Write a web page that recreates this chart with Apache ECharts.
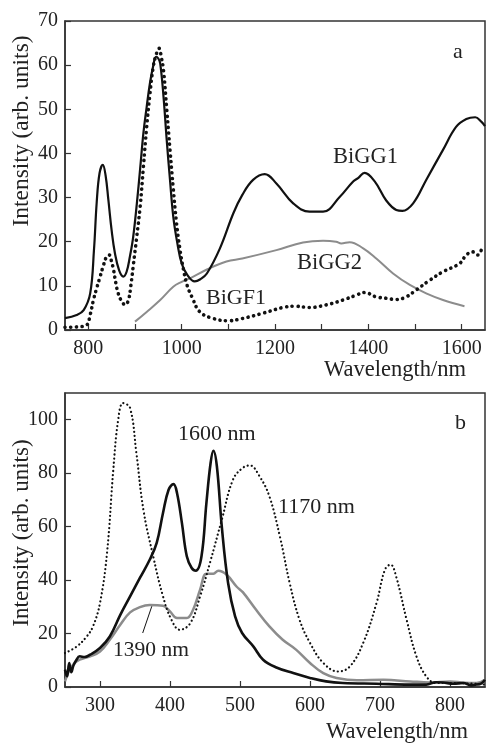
<!DOCTYPE html>
<html>
<head>
<meta charset="utf-8">
<script src="https://cdn.jsdelivr.net/npm/echarts@6/dist/echarts.min.js"></script>
<style>html,body{margin:0;padding:0;background:#fff;}#c{width:486px;height:743px;}</style>
</head>
<body>
<div id="c"></div>
<script>
// ---- Panel a ----
const aXTicks = [800, 900, 1000, 1100, 1200, 1300, 1400, 1500, 1600];
const aXLabels = [800, 1000, 1200, 1400, 1600];
const aYTicks = [0, 10, 20, 30, 40, 50, 60, 70];

const bigg1X = [750,775,790,804,812,818,824,831,837,843,850,857,866,875,882,889,896,904,911,918,925,932,939,945,950,954,961,968,975,982,991,1000,1012,1028,1040,1054,1082,1111,1130,1153,1178,1203,1239,1274,1303,1339,1367,1378,1392,1414,1438,1460,1473,1496,1524,1560,1588,1610,1629,1642,1650];
const bigg1Y = [2.7,3.4,4.5,8.3,18,29,35.5,37.4,35,29.4,22.5,17.4,13.5,12.1,13.2,16.6,21,28.7,36.5,44.6,50.5,55.9,59.8,61.9,61.5,60.4,53,43,34,25.7,19.5,15.1,12.5,11,11.5,12.8,18.5,26.5,30.6,34,35.3,33.2,28.7,26.8,26.8,30.2,33.6,34.4,35.6,33.6,29.4,27.2,27,28.7,34,40.8,46,47.8,48.2,47.2,46.2];

const bigf1X = [750,775,796,804,811,818,825,832,839,845,849,854,859,864,872,879,886,891,896,903,911,918,925,932,939,946,952,956,961,968,975,982,989,996,1004,1012,1022,1039,1068,1100,1130,1174,1217,1242,1274,1310,1346,1374,1392,1417,1438,1460,1481,1503,1532,1560,1596,1610,1624,1635,1646,1650];
const bigf1Y = [0.6,0.7,1.1,3.5,6.8,9.5,12,14.5,16.6,17,15.8,13.6,10.6,8.3,6.4,5.7,6.8,10,14.3,20.5,27.9,37,46,53.5,59.6,62.6,63.8,62,58.9,50,40.8,32,24.2,18.5,13.6,10,7.5,4.1,2.6,2.1,2.6,3.8,5.1,5.4,5.1,5.7,6.8,7.9,8.5,7.5,7.2,6.9,7.5,9.1,11.3,13.2,15.1,17,17.7,17,18.5,18.3];

const bigg2X = [900,925,954,982,1000,1025,1054,1096,1130,1203,1260,1303,1331,1342,1360,1389,1417,1453,1489,1524,1560,1606];
const bigg2Y = [1.9,4.1,6.8,9.8,10.9,12.1,13.7,15.5,16.2,18.1,19.8,20.2,20,19.6,19.9,18.5,16.2,12.8,10.2,8.3,6.8,5.4];

// ---- Panel b ----
const bXTicks = [300, 400, 500, 600, 700, 800];
const bYTicks = [0, 20, 40, 60, 80, 100];

const ex1600X = [250,253,256,259,262,266,271,278,286,300,314,329,343,357,371,381,390,398,405,410,417,424,431,437,445,452,458,462,467,474,483,493,503,519,533,552,576,600,623,647,695,742,766,780,790,805,819,830,838,845,850];
const ex1600Y = [6.5,4,9,5.5,8,10,11.5,11.2,12.1,14.6,18.9,27,33.9,40.8,47.6,53.9,65.1,73.8,75.9,72.6,61.4,48.9,44.5,43.5,48.9,68.8,83.8,88.4,82.5,60,38.9,26.4,20.2,15.2,10.2,7.3,5.2,3.4,2.1,1.5,1.2,0.9,0.9,1.8,1.7,1.2,1.5,0.6,0.9,1.4,2.7];

const ex1390X = [250,254,257,262,271,286,300,314,329,343,357,371,390,400,410,424,433,443,452,462,469,481,495,504,523,542,561,580,600,619,638,667,705,743,771,800,820,838,850];
const ex1390Y = [2.1,5,6.5,8.5,10.2,11.5,13.3,17.7,23.3,27.9,29.9,30.7,30.4,28.3,25.8,25.8,28.9,36.4,42.4,42.4,43.5,42,37.6,35.5,28.9,22.7,17.7,14,9,5.2,3.4,2.5,2.7,2.1,1.7,2.1,1.6,1.5,2.7];

const ex1170X = [250,267,281,290,300,310,319,326,333,343,352,362,376,390,402,414,429,443,457,474,490,504,514,528,542,557,571,585,600,619,640,657,676,695,707,715,723,738,752,766,780,800,850];
const ex1170Y = [12.7,15.2,18.9,22.7,31.4,50.1,81.3,100,106.2,104.4,87.5,66.3,48.9,33.9,25.2,21.4,23.9,33.9,46.4,62.6,77.6,82,82.9,78.8,71.3,56.3,38.9,25.2,16.5,9,5.8,7.7,16.5,31.4,43.9,45.8,41.4,25.2,11.5,4,1.5,1.5,0.9];

const leader1390 = [[361, 20.2], [374, 30.2]];

function zip(xs, ys) { return xs.map((x, i) => [x, ys[i]]); }

const FONT = 'Liberation Serif';
const TXT = '#222';
const AX = '#333';
const GRAY = '#8c8c8c';

function xAxisCfg(gi, min, max, ticks, labels) {
  return {
    type: 'value', gridIndex: gi, min: min, max: max,
    axisLine: { show: true, lineStyle: { color: AX, width: 1.5 } },
    axisTick: { show: true, inside: true, length: 6, customValues: ticks, lineStyle: { color: AX, width: 1.2 } },
    axisLabel: { customValues: labels, margin: 9, fontFamily: FONT, fontSize: 20, color: TXT, formatter: v => String(v) },
    splitLine: { show: false }
  };
}
function yAxisCfg(gi, min, max, ticks) {
  return {
    type: 'value', gridIndex: gi, min: min, max: max,
    axisLine: { show: true, lineStyle: { color: AX, width: 1.5 } },
    axisTick: { show: true, inside: true, length: 6, customValues: ticks, lineStyle: { color: AX, width: 1.2 } },
    axisLabel: { customValues: ticks, margin: 7, fontFamily: FONT, fontSize: 20, color: TXT, formatter: v => String(v) },
    splitLine: { show: false }
  };
}
function txt(x, y, s, size, align, rot) {
  const o = {
    type: 'text', x: x, y: y, silent: true,
    style: { text: s, fontFamily: FONT, fontSize: size || 22, fill: TXT, textAlign: align || 'left', textVerticalAlign: 'middle' }
  };
  if (rot) o.rotation = rot;
  return o;
}

const chart = echarts.init(document.getElementById('c'), null, { renderer: 'canvas' });
chart.setOption({
  backgroundColor: '#fff',
  animation: false,
  grid: [
    { left: 65, top: 21, width: 420, height: 309, show: true, borderColor: AX, borderWidth: 1.5, backgroundColor: 'transparent' },
    { left: 65, top: 393, width: 420, height: 294, show: true, borderColor: AX, borderWidth: 1.5, backgroundColor: 'transparent' }
  ],
  xAxis: [
    xAxisCfg(0, 750, 1650, aXTicks, aXLabels),
    xAxisCfg(1, 250, 850, bXTicks, bXTicks)
  ],
  yAxis: [
    yAxisCfg(0, 0, 70, aYTicks),
    yAxisCfg(1, 0, 110, bYTicks)
  ],
  series: [
    { name: 'BiGG2', type: 'line', xAxisIndex: 0, yAxisIndex: 0, data: zip(bigg2X, bigg2Y), smooth: 0.4, showSymbol: false, lineStyle: { color: GRAY, width: 2 } },
    { name: 'BiGG1', type: 'line', xAxisIndex: 0, yAxisIndex: 0, data: zip(bigg1X, bigg1Y), smooth: 0.4, showSymbol: false, lineStyle: { color: '#111', width: 2.2 } },
    { name: 'BiGF1', type: 'line', xAxisIndex: 0, yAxisIndex: 0, data: zip(bigf1X, bigf1Y), smooth: 0.4, showSymbol: false, lineStyle: { color: '#111', width: 3.6, type: [0.1, 5.6], cap: 'round' } },
    { name: '1390 nm', type: 'line', xAxisIndex: 1, yAxisIndex: 1, data: zip(ex1390X, ex1390Y), smooth: 0.4, showSymbol: false, lineStyle: { color: GRAY, width: 2.5 },
      markLine: { silent: true, symbol: ['none', 'none'], label: { show: false }, lineStyle: { color: '#111', width: 1, type: 'solid' },
        data: [[{ coord: leader1390[0] }, { coord: leader1390[1] }]] } },
    { name: '1600 nm', type: 'line', xAxisIndex: 1, yAxisIndex: 1, data: zip(ex1600X, ex1600Y), smooth: 0.4, showSymbol: false, lineStyle: { color: '#111', width: 2.6 } },
    { name: '1170 nm', type: 'line', xAxisIndex: 1, yAxisIndex: 1, data: zip(ex1170X, ex1170Y), smooth: 0.4, showSymbol: false, lineStyle: { color: '#111', width: 2.2, type: [0.1, 4], cap: 'round' } }
  ],
  graphic: [
    txt(22, 131, 'Intensity (arb. units)', 23.5, 'center', Math.PI / 2),
    txt(22, 533, 'Intensity (arb. units)', 23, 'center', Math.PI / 2),
    txt(466, 370, 'Wavelength/nm', 22.5, 'right'),
    txt(468, 732, 'Wavelength/nm', 22.5, 'right'),
    txt(453, 52, 'a', 22),
    txt(333, 157, 'BiGG1', 22.5),
    txt(297, 263, 'BiGG2', 22.5),
    txt(206, 298, 'BiGF1', 22),
    txt(455, 423, 'b', 22),
    txt(178, 434, '1600 nm', 22),
    txt(278, 507, '1170 nm', 22),
    txt(113, 650, '1390 nm', 21.5)
  ]
});
</script>
</body>
</html>
